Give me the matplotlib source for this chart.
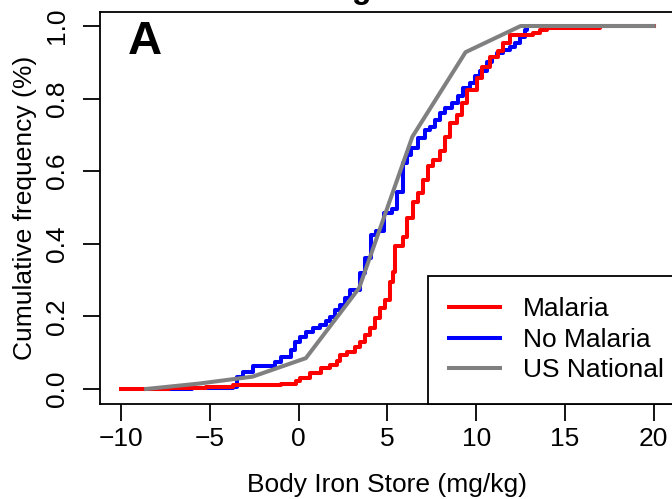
#Importing libraries
import matplotlib
matplotlib.use('Agg')
import matplotlib.pyplot as plt

#Step points of the Malaria ecdf (x where the step happens, level after the step)
malaria_x = [-10, -7.3, -5.2, -3.7, -1.0, -0.13, 0.06, 0.62, 1.28, 1.75, 2.13, 2.31,
             2.69, 3.16, 3.44, 3.72, 4.0, 4.29, 4.57, 4.85, 5.13, 5.32, 5.45, 5.85,
             6.1, 6.45, 6.73, 7.01, 7.29, 7.58, 7.95, 8.23, 8.52, 8.89, 9.18, 9.46,
             10.02, 10.3, 10.77, 11.24, 11.52, 11.9, 13.2, 13.6, 13.97, 17.0, 20]
malaria_y = [0.0, 0.003, 0.006, 0.01, 0.015, 0.021, 0.029, 0.043, 0.057, 0.066, 0.078, 0.094,
             0.103, 0.117, 0.13, 0.149, 0.167, 0.195, 0.222, 0.245, 0.296, 0.323, 0.395, 0.42,
             0.472, 0.514, 0.539, 0.576, 0.613, 0.631, 0.655, 0.695, 0.732, 0.755, 0.787, 0.824,
             0.856, 0.888, 0.916, 0.93, 0.953, 0.976, 0.982, 0.99, 0.994, 1.0, 1.0]

#Step points of the No Malaria ecdf
no_malaria_x = [-8.0, -6.0, -3.7, -3.5, -3.14, -2.58, -1.35, -0.98, -0.41, -0.23, 0.06, 0.43,
                0.81, 1.18, 1.56, 1.75, 2.03, 2.31, 2.59, 2.88, 3.44, 3.75, 4.05, 4.35,
                4.8, 5.25, 5.51, 5.88, 6.1, 6.35, 6.73, 7.1, 7.39, 7.67, 7.95, 8.23,
                8.61, 8.98, 9.27, 9.64, 9.93, 10.2, 10.6, 10.87, 11.15, 11.52, 11.9, 12.18,
                12.46, 12.75, 12.84, 20]
no_malaria_y = [0.0, 0.003, 0.006, 0.034, 0.048, 0.063, 0.075, 0.089, 0.107, 0.13, 0.144, 0.158,
                0.167, 0.176, 0.186, 0.199, 0.218, 0.232, 0.25, 0.273, 0.319, 0.36, 0.424, 0.434,
                0.484, 0.495, 0.544, 0.622, 0.645, 0.663, 0.691, 0.714, 0.723, 0.741, 0.76, 0.774,
                0.787, 0.806, 0.829, 0.842, 0.861, 0.875, 0.902, 0.916, 0.925, 0.934, 0.943, 0.953,
                0.971, 0.99, 1.0, 1.0]

#US National reference curve
us_x = [-8.6, -5.6, -2.6, 0.4, 3.4, 6.4, 9.4, 12.5, 16.0, 20.0]
us_y = [0.0, 0.015, 0.034, 0.085, 0.278, 0.695, 0.928, 1.0, 1.0, 1.0]

x_ticks = [-10, -5, 0, 5, 10, 15, 20]
y_ticks = [0.0, 0.2, 0.4, 0.6, 0.8, 1.0]

plt.rcParams['font.family'] = ['Liberation Sans', 'DejaVu Sans']

fig = plt.figure(figsize=(6.72, 4.99), dpi=100)
#The original picture is cropped, so the axes run past the right edge
ax = fig.add_axes([100 / 672, (499 - 403.5) / 499, 575 / 672, 392 / 499])

ax.step(no_malaria_x, no_malaria_y, where='post', color='#0000FF', lw=2.9, label='No Malaria')
ax.step(malaria_x, malaria_y, where='post', color='#FF0000', lw=2.9, label='Malaria')
ax.plot(us_x, us_y, color='#808080', lw=2.9, label='US National')

ax.set_xlim(-11.2, 21.2)
ax.set_ylim(-0.04, 1.04)
ax.set_xticks(x_ticks)
ax.set_yticks(y_ticks)
ax.set_xticklabels([str(t).replace('-', '\u2212') for t in x_ticks])
ax.set_yticklabels(['%.1f' % t for t in y_ticks], rotation=90, va='center')

ax.tick_params(axis='both', direction='out', length=12, width=1.3, labelsize=19)
ax.tick_params(axis='x', pad=5)
ax.tick_params(axis='y', pad=10)
for spine in ax.spines.values():
  spine.set_linewidth(1.3)

ax.set_xlabel('Body Iron Store (mg/kg)', fontsize=19)
ax.set_ylabel('Cumulative frequency (%)', fontsize=19)
ax.xaxis.set_label_coords(0.5, -0.178)
ax.yaxis.set_label_coords(-0.1096, 0.5)

ax.set_title('Uganda', fontsize=23, fontweight='bold', pad=9.5)
ax.text(0.0487, 0.8916, 'A', transform=ax.transAxes, fontsize=34, fontweight='bold',
        ha='left', va='baseline')

#Legend in the order of the original, its right side runs off the picture
handles, labels = ax.get_legend_handles_labels()
order = [1, 0, 2]
leg = ax.legend([handles[i] for i in order], [labels[i] for i in order],
                loc='lower right', bbox_to_anchor=(1.017, 0), borderaxespad=0,
                fontsize=19, handlelength=1.93, handletextpad=0.87, borderpad=0.8,
                labelspacing=0.25, fancybox=False, edgecolor='black', framealpha=1)
leg.get_frame().set_linewidth(1.3)

fig.savefig('out.png', dpi=100)
